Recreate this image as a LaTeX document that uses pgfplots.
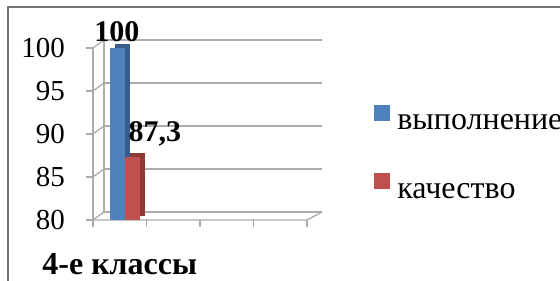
\documentclass[border=0pt]{standalone}
\usepackage{pgfplots}
\pgfplotsset{compat=1.18}
\usepackage{fontspec}
\setmainfont{Liberation Serif}
\definecolor{barblue}{HTML}{4F81BD}
\definecolor{bluedark}{HTML}{385D8A}
\definecolor{barred}{HTML}{C0504D}
\definecolor{reddark}{HTML}{8C3836}
\begin{document}
\begin{tikzpicture}[font=\rmfamily]
\path[use as bounding box, clip] (0pt,0pt) rectangle (560pt,281pt);
\begin{scope}[x=1pt,y=1pt]
\tikzset{gridl/.style={draw=gray!65, line width=1.3pt}}
\draw[black!55, line width=1.2pt] (8,-20) -- (8,274) -- (600,274);
\foreach \y in {61,104,147,190,233} {
  \draw[gridl] (104,\y+8) -- (322,\y+8);
  \draw[gridl] (93,\y) -- (104,\y+8);
  \draw[gridl] (86,\y) -- (93,\y);
}
\draw[gridl] (104,69) -- (104,241);
\draw[gridl] (93,61) -- (93,233);
\draw[gridl] (93,61) -- (307,61) -- (322,69);
\foreach \x in {93,146.5,200,253.5,307} \draw[gridl] (\x,61) -- (\x,54);
\end{scope}
\begin{axis}[
  at={(93pt,61pt)}, anchor=south west,
  scale only axis, width=214pt, height=189.2pt,
  xmin=0, xmax=4, ymin=80, ymax=102,
  axis line style={draw=none},
  ytick={80,85,90,95,100},
  yticklabel={\pgfmathprintnumber[assume math mode=true]{\tick}},
  yticklabel style={font=\rmfamily\mdseries\fontsize{29}{29}\selectfont, inner sep=0pt, xshift=-28pt, anchor=east},
  xtick=\empty,
  extra x ticks={0.5}, extra x tick labels={\textbf{4-е классы}},
  extra x tick style={major tick length=0pt, xticklabel style={font=\rmfamily\bfseries\fontsize{32}{32}\selectfont, inner sep=0pt, yshift=-33pt, anchor=north}},
  major tick length=0pt,
  legend cell align=left,
  legend style={at={(1.313,0.6078)}, anchor=north west, draw=none, fill=none,
    inner sep=0pt, outer sep=0pt, font=\rmfamily\fontsize{32}{32}\selectfont, row sep=42pt,
    nodes={inner sep=0pt, outer sep=0pt},
    /tikz/every odd column/.append style={column sep=8pt}},
  /pgf/number format/use comma,
  /pgf/number format/assume math mode=true,
]
\addplot[ybar, bar width=15pt, bar shift=-7.5pt, fill=bluedark, draw=none, xshift=5pt, yshift=4pt, forget plot] coordinates {(0.598,100)};
\addplot[ybar, bar width=15pt, bar shift=-7.5pt, fill=barblue, draw=none, forget plot,
  nodes near coords, every node near coord/.append style={font=\rmfamily\bfseries\fontsize{30}{30}\selectfont, inner sep=0pt, anchor=south, xshift=-8pt, yshift=6pt, text=black}] coordinates {(0.598,100)};
\addplot[ybar, bar width=15pt, bar shift=7.5pt, fill=reddark, draw=none, xshift=5pt, yshift=4pt, forget plot] coordinates {(0.598,87.3)};
\addplot[ybar, bar width=15pt, bar shift=7.5pt, fill=barred, draw=none, forget plot,
  nodes near coords, every node near coord/.append style={font=\rmfamily\bfseries\fontsize{30}{30}\selectfont, inner sep=0pt, anchor=base west, xshift=3.5pt, yshift=16pt, text=black}] coordinates {(0.598,87.3)};
\addlegendimage{legend image code/.code={\fill[barblue] (0pt,3pt) rectangle (15pt,18pt);}}
\addlegendentry{выполнение}
\addlegendimage{legend image code/.code={\fill[barred] (0pt,3pt) rectangle (15pt,18pt);}}
\addlegendentry{качество}
\end{axis}
\end{tikzpicture}
\end{document}
